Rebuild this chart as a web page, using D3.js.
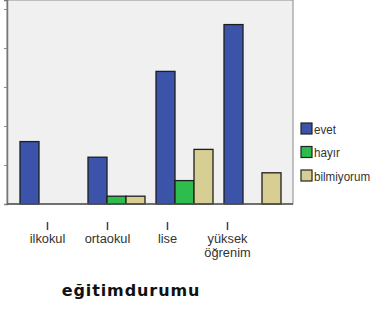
<!DOCTYPE html>
<html>
<head>
<meta charset="utf-8">
<script src="https://cdn.jsdelivr.net/npm/d3@7"></script>
<style>
  body { margin: 0; background: #fff; }
  svg { display: block; }
</style>
</head>
<body>
<svg id="chart" width="378" height="309"></svg>
<script>
// data
const categories = ["ilkokul", "ortaokul", "lise", "yüksek öğrenim"];
const series = ["evet", "hayır", "bilmiyorum"];
const evet = [16, 12, 34, 46];
const hayir = [0, 2, 6, 0];
const bilmiyorum = [0, 2, 14, 8];
const yTicks = [0, 10, 20, 30, 40, 50];
const colors = ["#3b54a9", "#2ebd4c", "#d7ce93"];

const values = [evet, hayir, bilmiyorum];
const rows = categories.map((c, i) => ({
  cat: c,
  vals: series.map((s, j) => ({ key: s, value: values[j][i] }))
}));

const svg = d3.select("#chart");

const plot = { left: 7, right: 293, top: 0, bottom: 204 };

// Scales
const x0 = d3.scaleBand()
  .domain(categories)
  .range([14.5, 286.5])
  .paddingInner(11 / 68)
  .paddingOuter(11 / 136);

const x1 = d3.scaleBand()
  .domain(series)
  .range([0, x0.bandwidth()]);

const y = d3.scaleLinear()
  .domain([0, 52.3])
  .range([plot.bottom, plot.top]);

const color = d3.scaleOrdinal().domain(series).range(colors);

// label positions (the lower part of the picture is shifted a little)
const xLab = d3.scalePoint()
  .domain(categories)
  .range([47, 227]);

// plot background
svg.append("rect")
  .attr("x", plot.left)
  .attr("y", plot.top)
  .attr("width", plot.right - plot.left)
  .attr("height", plot.bottom - plot.top)
  .attr("fill", "#f0f0f0")
  .attr("stroke", "#8a8a8a")
  .attr("stroke-width", 1);

// Y axis (labels cropped off in the picture)
svg.append("g")
  .attr("transform", `translate(${plot.left},0)`)
  .call(d3.axisLeft(y).tickValues(yTicks).tickSize(3).tickFormat(""))
  .call(g => g.select(".domain").attr("stroke", "#777").attr("stroke-width", 1.5))
  .call(g => g.selectAll(".tick line").attr("stroke", "#888"));

// bars
const groups = svg.append("g")
  .selectAll("g")
  .data(rows)
  .enter()
  .append("g")
  .attr("transform", d => `translate(${x0(d.cat)},0)`);

groups.selectAll("rect")
  .data(d => d.vals.filter(v => v.value > 0))
  .enter()
  .append("rect")
  .attr("x", d => x1(d.key))
  .attr("y", d => y(d.value))
  .attr("width", x1.bandwidth())
  .attr("height", d => y(0) - y(d.value))
  .attr("fill", d => color(d.key))
  .attr("stroke", "#1e1e1e")
  .attr("stroke-width", 1.3);

// baseline
svg.append("line")
  .attr("x1", plot.left)
  .attr("x2", plot.right)
  .attr("y1", y(0))
  .attr("y2", y(0))
  .attr("stroke", "#555")
  .attr("stroke-width", 1.5);

// category axis
const xa = svg.append("g")
  .attr("transform", "translate(0,222)")
  .call(d3.axisBottom(xLab).tickSize(8).tickPadding(3).tickFormat(""))
  .call(g => g.select(".domain").remove())
  .call(g => g.selectAll(".tick line").attr("stroke", "#444").attr("stroke-width", 1.5));

xa.selectAll(".tick")
  .append("text")
  .attr("fill", "#333")
  .style("font-family", "'Liberation Sans', Arial, sans-serif")
  .style("font-size", "13.5px")
  .attr("text-anchor", "middle")
  .attr("transform", "scale(0.95,1)")
  .selectAll("tspan")
  .data(d => d.split(" "))
  .enter()
  .append("tspan")
  .attr("x", 0)
  .attr("y", (d, i) => 21.5 + i * 14)
  .text(d => d);

// axis title
svg.append("text")
  .attr("x", 131)
  .attr("y", 296)
  .attr("text-anchor", "middle")
  .style("font-family", "'DejaVu Sans', Verdana, sans-serif")
  .style("font-weight", "bold")
  .style("font-size", "16px")
  .style("letter-spacing", "0.9px")
  .attr("fill", "#111")
  .text("eğitimdurumu");

// legend
const legend = svg.append("g")
  .selectAll("g")
  .data(series)
  .enter()
  .append("g")
  .attr("transform", (d, i) => `translate(301,${123 + i * 23.5})`);

legend.append("rect")
  .attr("width", 11)
  .attr("height", 11)
  .attr("fill", d => color(d))
  .attr("stroke", "#222")
  .attr("stroke-width", 1.2);

legend.append("text")
  .attr("transform", "translate(13,10.5) scale(0.86,1)")
  .attr("fill", "#333")
  .style("font-family", "'Liberation Sans', Arial, sans-serif")
  .style("font-size", "13.5px")
  .text(d => d);
</script>
</body>
</html>
